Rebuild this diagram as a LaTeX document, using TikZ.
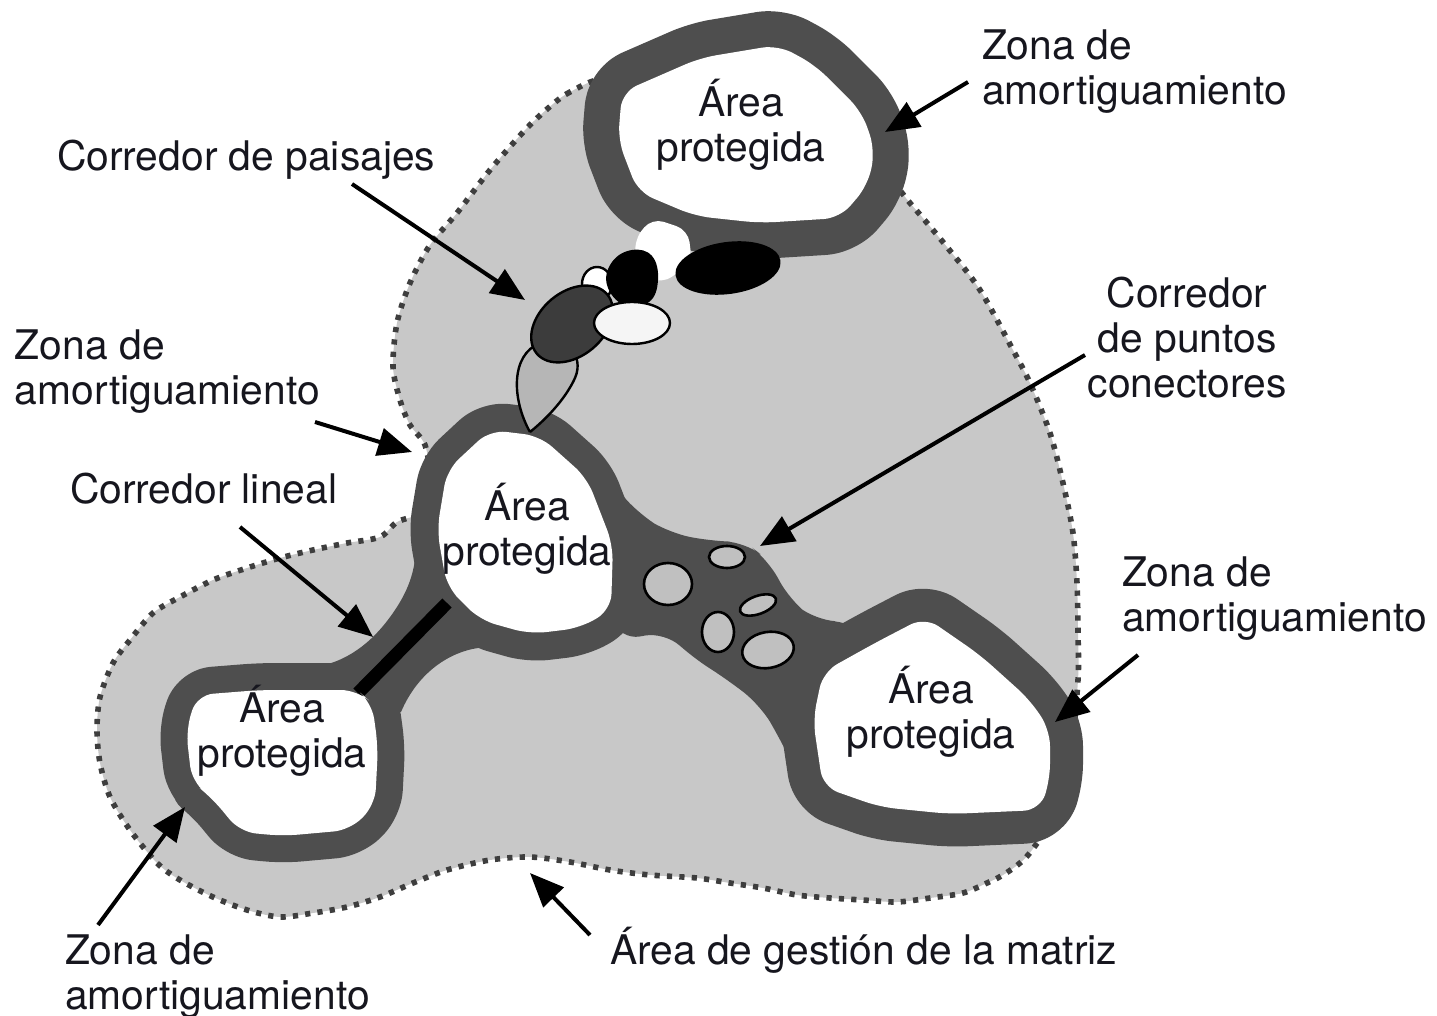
\documentclass[tikz,border=0pt]{standalone}
\usepackage{fontspec}
\setmainfont{TeX Gyre Heros}
\usetikzlibrary{arrows.meta}
\definecolor{matrixgray}{RGB}{200,200,200}
\definecolor{dotgray}{RGB}{62,62,62}
\definecolor{ringgray}{RGB}{78,78,78}
\definecolor{patchgray}{RGB}{182,182,182}
\definecolor{darkpatch}{RGB}{60,60,60}
\definecolor{nodegray}{RGB}{192,192,192}
\definecolor{txt}{RGB}{22,22,30}
\def\pathTopInt{(622,92) -- (700,58) -- (778,45) -- (815,65) -- (862,112) -- (875,150) -- (868,185) -- (840,218) -- (760,223) -- (695,216) -- (638,192) -- (618,140) -- cycle}
\def\pathMidInt{(447,470) -- (490,430) -- (540,436) -- (587,478) -- (613,545) -- (611,610) -- (580,628) -- (530,634) -- (480,620) -- (447,587) -- (437,530) -- cycle}
\def\pathRightInt{(925,617) -- (980,655) -- (1030,700) -- (1050,730) -- (1050,780) -- (1040,810) -- (950,814) -- (880,807) -- (823,787) -- (813,720) -- (823,672) -- (875,643) -- cycle}
\def\pathBLInt{(197,695) -- (260,690) -- (357,690) -- (372,703) -- (378,747) -- (375,805) -- (350,830) -- (283,836) -- (240,832) -- (212,798) -- (192,782) -- (186,730) -- cycle}
\begin{document}
\begin{tikzpicture}[x=0.5pt,y=-0.5pt,
  lbl/.style={font=\fontsize{20.4}{22.5}\selectfont, text=txt, inner sep=0pt, outer sep=0pt},
  arr/.style={draw=black, line width=2pt, -{Triangle[length=17pt,width=14pt]}},
  ringline/.style={draw=ringgray, line join=round, rounded corners=8pt},
  interior/.style={fill=white, rounded corners=8pt},
  blob/.style={draw=black, line width=1.2pt},
]
\useasboundingbox (0,0) rectangle (1437,1016);
\fill[white] (0,0) rectangle (1437,1016);
% ---------- matrix management area ----------
\filldraw[fill=matrixgray, draw=dotgray, line width=2.8pt, dash pattern=on 2.6pt off 3.6pt]
 plot[smooth cycle, tension=0.5] coordinates {
 (600,80) (570,92) (553,104) (527,128) (490,170) (457,213) (430,245) (410,283)
 (397,323) (393,367) (400,400) (410,425) (425,445) (430,480) (420,512) (397,522)
 (380,537) (347,543) (313,550) (280,558) (247,568) (213,580) (180,597) (153,613)
 (130,640) (113,663) (100,697) (97,730) (100,763) (110,797) (130,830) (157,863)
 (180,880) (213,897) (247,910) (280,917) (313,913) (347,907) (380,897) (413,883)
 (447,870) (490,860) (530,857) (570,862) (610,870) (650,875) (697,878) (730,883)
 (763,888) (797,895) (830,898) (863,900) (897,902) (930,898) (963,893) (987,883)
 (1003,875) (1020,863) (1032,850) (1055,815) (1070,760) (1078,680) (1078,633)
 (1077,583) (1073,533) (1063,483) (1050,433) (1030,383) (1013,350) (980,290)
 (947,247) (910,203) (880,170) (800,120) (700,110) (620,100)};
% ---------- buffer rings ----------
\draw[ringline, line width=36pt] \pathTopInt;
\draw[ringline, line width=28pt] \pathMidInt;
\draw[ringline, line width=33pt] \pathRightInt;
\draw[ringline, line width=27pt] \pathBLInt;
% connector band between middle and right areas
\fill[ringgray, rounded corners=10pt] (600,470) -- (640,515) -- (670,533) -- (710,541) -- (745,542)
 -- (768,560) -- (790,600) -- (815,620) -- (850,622) -- (880,640) -- (880,760) -- (800,780)
 -- (778,735) -- (760,705) -- (728,680) -- (692,657) -- (665,632) -- (620,640) -- (590,560) -- cycle;
% neck of the linear corridor
\fill[ringgray] (320,666) .. controls (350,660) and (375,640) .. (395,610)
 .. controls (405,595) and (412,580) .. (415,560) -- (470,600) -- (478,648)
 .. controls (450,652) and (418,672) .. (401,712) -- (360,700) -- cycle;
% linear corridor
\draw[black, line width=6.5pt] (447,603) -- (358,693);
% ---------- protected areas ----------
\fill[interior] \pathTopInt;
\fill[interior] \pathMidInt;
\fill[interior] \pathRightInt;
\fill[interior] \pathBLInt;
% ---------- stepping-stone corridor ----------
\foreach \cx/\cy/\rx/\ry/\rot in {668/584/24/21/0, 727/557/18/11/0, 758/605/19/9/20, 718/632/16/20/0, 768/650/26/18/10}{
  \filldraw[fill=nodegray, draw=black, line width=1.3pt, rotate around={\rot:(\cx,\cy)}]
   (\cx,\cy) ellipse [x radius=\rx, y radius=\ry];
}
% ---------- landscape corridor ----------
\filldraw[blob, fill=patchgray] (530,432) .. controls (512,400) and (510,355) .. (540,343)
 .. controls (565,334) and (585,355) .. (575,378) .. controls (565,400) and (545,420) .. (530,432);
\fill[white, rounded corners=6pt] (634,240) -- (652,218) -- (688,230) -- (692,262) -- (662,284) -- (638,272) -- cycle;
\filldraw[blob, fill=white] (597,284) ellipse [x radius=15, y radius=17];
\fill[black] plot[smooth cycle, tension=0.7] coordinates {(612,262) (632,250) (652,256) (658,280) (649,302) (624,305) (607,285)};
\fill[black, rotate around={8:(728,268)}] (728,268) ellipse [x radius=53, y radius=26];
\filldraw[blob, fill=darkpatch, rotate around={40:(572,324)}] (572,324) ellipse [x radius=46, y radius=32];
\filldraw[blob, fill=white!96!black] (632,323) ellipse [x radius=38, y radius=21];
% ---------- texts in areas ----------
\node[lbl, align=center, anchor=north] (tTop) at (741,79) {Área\\protegida};
\node[lbl, align=center, anchor=north] (tMid) at (527,483) {Área\\protegida};
\node[lbl, align=center, anchor=north] (tRight) at (931,666) {Área\\protegida};
\node[lbl, align=center, anchor=north] (tBL) at (282,685) {Área\\protegida};
% ---------- labels ----------
\node[lbl, align=left, anchor=north west] (zTR) at (982,30) {Zona de\\amortiguamiento};
\node[lbl, anchor=base west] (cPais) at (57,171) {Corredor de paisajes};
\node[lbl, align=center, anchor=north] (cPunt) at (1187,277) {Corredor\\de puntos\\conectores};
\node[lbl, align=left, anchor=north west] (zL) at (15,330) {Zona de\\amortiguamiento};
\node[lbl, anchor=base west] (cLin) at (70,504) {Corredor lineal};
\node[lbl, align=left, anchor=north west] (zR) at (1122,557) {Zona de\\amortiguamiento};
\node[lbl, align=left, anchor=north west] (zBL) at (65,935) {Zona de\\amortiguamiento};
\node[lbl, anchor=base west] (aMat) at (610,964) {Área de gestión de la matriz};
% ---------- arrows ----------
\coordinate (s1) at (968,82);   \coordinate (t1) at (885,132);
\coordinate (s2) at (352,184);  \coordinate (t2) at (525,300);
\coordinate (s3) at (1085,355); \coordinate (t3) at (760,546);
\coordinate (s4) at (315,422);  \coordinate (t4) at (412,452);
\coordinate (s5) at (240,527);  \coordinate (t5) at (373,637);
\coordinate (s6) at (1138,655); \coordinate (t6) at (1055,722);
\coordinate (s7) at (98,925);   \coordinate (t7) at (185,807);
\coordinate (s8) at (590,935);  \coordinate (t8) at (530,873);
\foreach \i in {1,...,8}{\draw[arr] (s\i) -- (t\i);}
\end{tikzpicture}
\end{document}
